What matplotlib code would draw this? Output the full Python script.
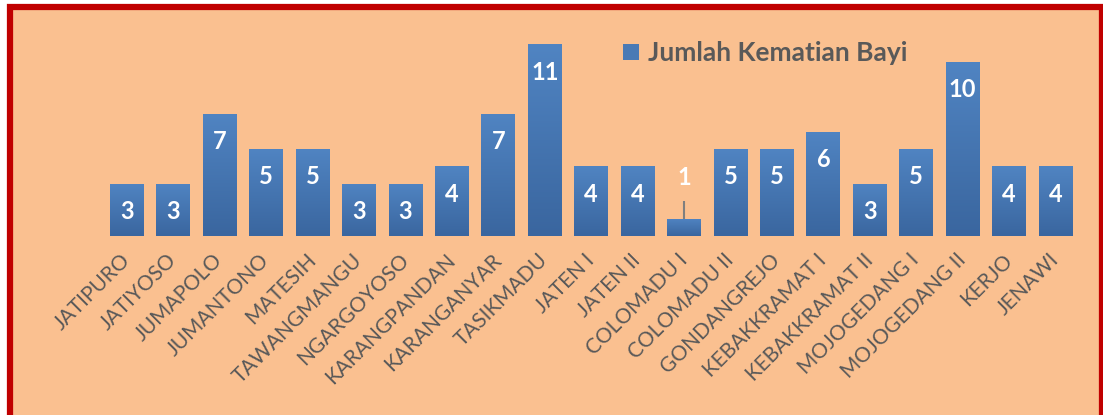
import matplotlib.pyplot as plt
import numpy as np
from matplotlib.patches import Rectangle
from matplotlib.colors import LinearSegmentedColormap

kecamatan = ['JATIPURO', 'JATIYOSO', 'JUMAPOLO', 'JUMANTONO', 'MATESIH',
             'TAWANGMANGU', 'NGARGOYOSO', 'KARANGPANDAN', 'KARANGANYAR',
             'TASIKMADU', 'JATEN I', 'JATEN II', 'COLOMADU I', 'COLOMADU II',
             'GONDANGREJO', 'KEBAKKRAMAT I', 'KEBAKKRAMAT II', 'MOJOGEDANG I',
             'MOJOGEDANG II', 'KERJO', 'JENAWI']
kematian_bayi = [3, 3, 7, 5, 5, 3, 3, 4, 7, 11, 4, 4, 1, 5, 5, 6, 3, 5, 10, 4, 4]
series_name = 'Jumlah Kematian Bayi'

plt.rcParams['font.family'] = ['Lato', 'DejaVu Sans']

fig = plt.figure(figsize=(11.03, 4.15), dpi=100)
fig.patch.set_facecolor('white')

# peach panel with red frame
fig.patches.append(Rectangle((10 / 1103, -0.2), 1092 / 1103, 1.2 - 7.5 / 415,
                             transform=fig.transFigure, facecolor='#FAC090',
                             edgecolor='#C00000', linewidth=4.5, zorder=-5))

ax = fig.add_axes([0.094, 0.431, 0.884, 0.504])
ax.set_facecolor('none')
ax.set_zorder(2)

x = np.arange(len(kecamatan))
bars = ax.bar(x, kematian_bayi, width=0.73, color='#4A7AB5', zorder=2,
              label=series_name)

# vertical gradient on each bar
cmap = LinearSegmentedColormap.from_list('g', ['#3A669F', '#5084C2'])
grad = np.linspace(0, 1, 100).reshape(-1, 1)
for b in bars:
    im = ax.imshow(grad, cmap=cmap, origin='lower', aspect='auto',
                   extent=[b.get_x(), b.get_x() + b.get_width(), 0, b.get_height()],
                   zorder=3)
    im.set_clip_path(b)

for xi, v in zip(x, kematian_bayi):
    if v < 2:
        ax.vlines(xi, v, v + 1.0, color='#7F7F7F', lw=1.5, zorder=4)
        ax.annotate(str(v), (xi, v), xytext=(0, 30), textcoords='offset points',
                    ha='center', va='center', color='white', fontsize=17,
                    fontweight='bold', zorder=5)
    else:
        ax.annotate(str(v), (xi, v), xytext=(0, -20), textcoords='offset points',
                    ha='center', va='center', color='white', fontsize=17,
                    fontweight='bold', zorder=5)

ax.set_xlim(-0.5, len(kecamatan) - 0.5)
ax.set_ylim(0, 12)
ax.set_xticks(x)
ax.set_xticklabels(kecamatan, rotation=45, ha='right', va='center',
                   rotation_mode='anchor', color='#595959', fontsize=15)
ax.tick_params(axis='x', length=0, pad=15)
ax.set_yticks([])
for s in ax.spines.values():
    s.set_visible(False)

leg = ax.legend(loc='upper left', bbox_to_anchor=(0.508, 1.045), frameon=False,
                handlelength=0.6, handleheight=0.6, handletextpad=0.35,
                prop={'size': 19, 'weight': 'bold'})
for t in leg.get_texts():
    t.set_color('#595959')

fig.savefig('out.png', dpi=100)
